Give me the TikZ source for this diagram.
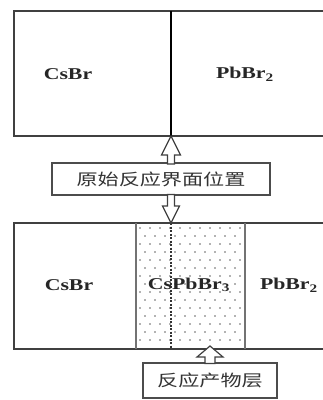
\documentclass[tikz,border=0pt]{standalone}
\usepackage{fontspec}
\usepackage{graphicx}
\setmainfont{Liberation Serif}
\newfontfamily\cjkfont{Noto Sans CJK SC}
\usetikzlibrary{calc}
\newcommand\sx[1]{\scalebox{1.32}[1]{#1}}
\begin{document}
\begin{tikzpicture}[x=1pt,y=-1pt,
  frame/.style={draw=black!75,line width=1.3pt},
  chem/.style={font=\fontsize{16.5}{18}\selectfont\bfseries,text=black!85,inner sep=0pt},
  lab/.style={draw=black!70,line width=1.5pt,fill=white,inner sep=0pt,
    font=\cjkfont\fontsize{16}{18}\selectfont,text=black!80},
  barrow/.style={draw=black!75,line width=1.2pt,fill=white,line join=miter},
  dotc/.style={fill=black!60}]
\useasboundingbox (0,0) rectangle (323,400);
% top box
\draw[frame] (323,11) -- (14,11) -- (14,136) -- (323,136);
\draw[line width=1.7pt] (171,11) -- (171,136);
\node[chem] (csbrA) at (68,74) {\sx{CsBr}};
\node[chem] (pbbrA) at (245,74) {\sx{PbBr\textsubscript{2}}};
% bottom box
\foreach \r in {0,...,14}{
  \pgfmathsetmacro\yy{228+8*\r}
  \pgfmathsetmacro\off{mod(\r,2)*5}
  \foreach \c in {0,...,10}{
    \pgfmathsetmacro\xx{140+\off+10*\c}
    \ifdim\xx pt<243pt \fill[dotc] (\xx,\yy) circle (0.85pt);\fi
  }
}
\draw[frame] (323,223) -- (14,223) -- (14,349) -- (323,349);
\draw[draw=black!55,line width=1.3pt] (136,223) -- (136,349);
\draw[draw=black!55,line width=1.3pt] (245,223) -- (245,349);
\draw[black!80,line width=1.1pt,dash pattern=on 2pt off 1.5pt] (171,223) -- (171,349);
\node[chem] (csbrB) at (69,285) {\sx{CsBr}};
\node[chem] (cspb) at (189,285) {\sx{CsPbBr\textsubscript{3}}};
\node[chem] (pbbrB) at (289,285) {\sx{PbBr\textsubscript{2}}};
% labels
\node[lab,minimum width=218pt,minimum height=32pt] (lab1) at (161,179) {\sx{原始反应界面位置}};
\node[lab,minimum width=134pt,minimum height=35pt] (lab2) at (210,380.5) {\sx{反应产物层}};
% arrows
\coordinate (tipA) at (171,136);
\coordinate (tipB) at (171,223);
\coordinate (tipC) at (210,346);
\draw[barrow] (tipA) -- ++(9.5,19) -- ++(-6,0) -- ++(0,9) -- ++(-7,0) -- ++(0,-9) -- ++(-6,0) -- cycle;
\draw[barrow] (tipB) -- ++(8.5,-17) -- ++(-5,0) -- ++(0,-11.5) -- ++(-7,0) -- ++(0,11.5) -- ++(-5,0) -- cycle;
\draw[barrow] (tipC) -- ++(13,11) -- ++(-8,0) -- ++(0,6.5) -- ++(-10,0) -- ++(0,-6.5) -- ++(-8,0) -- cycle;
\end{tikzpicture}
\end{document}
